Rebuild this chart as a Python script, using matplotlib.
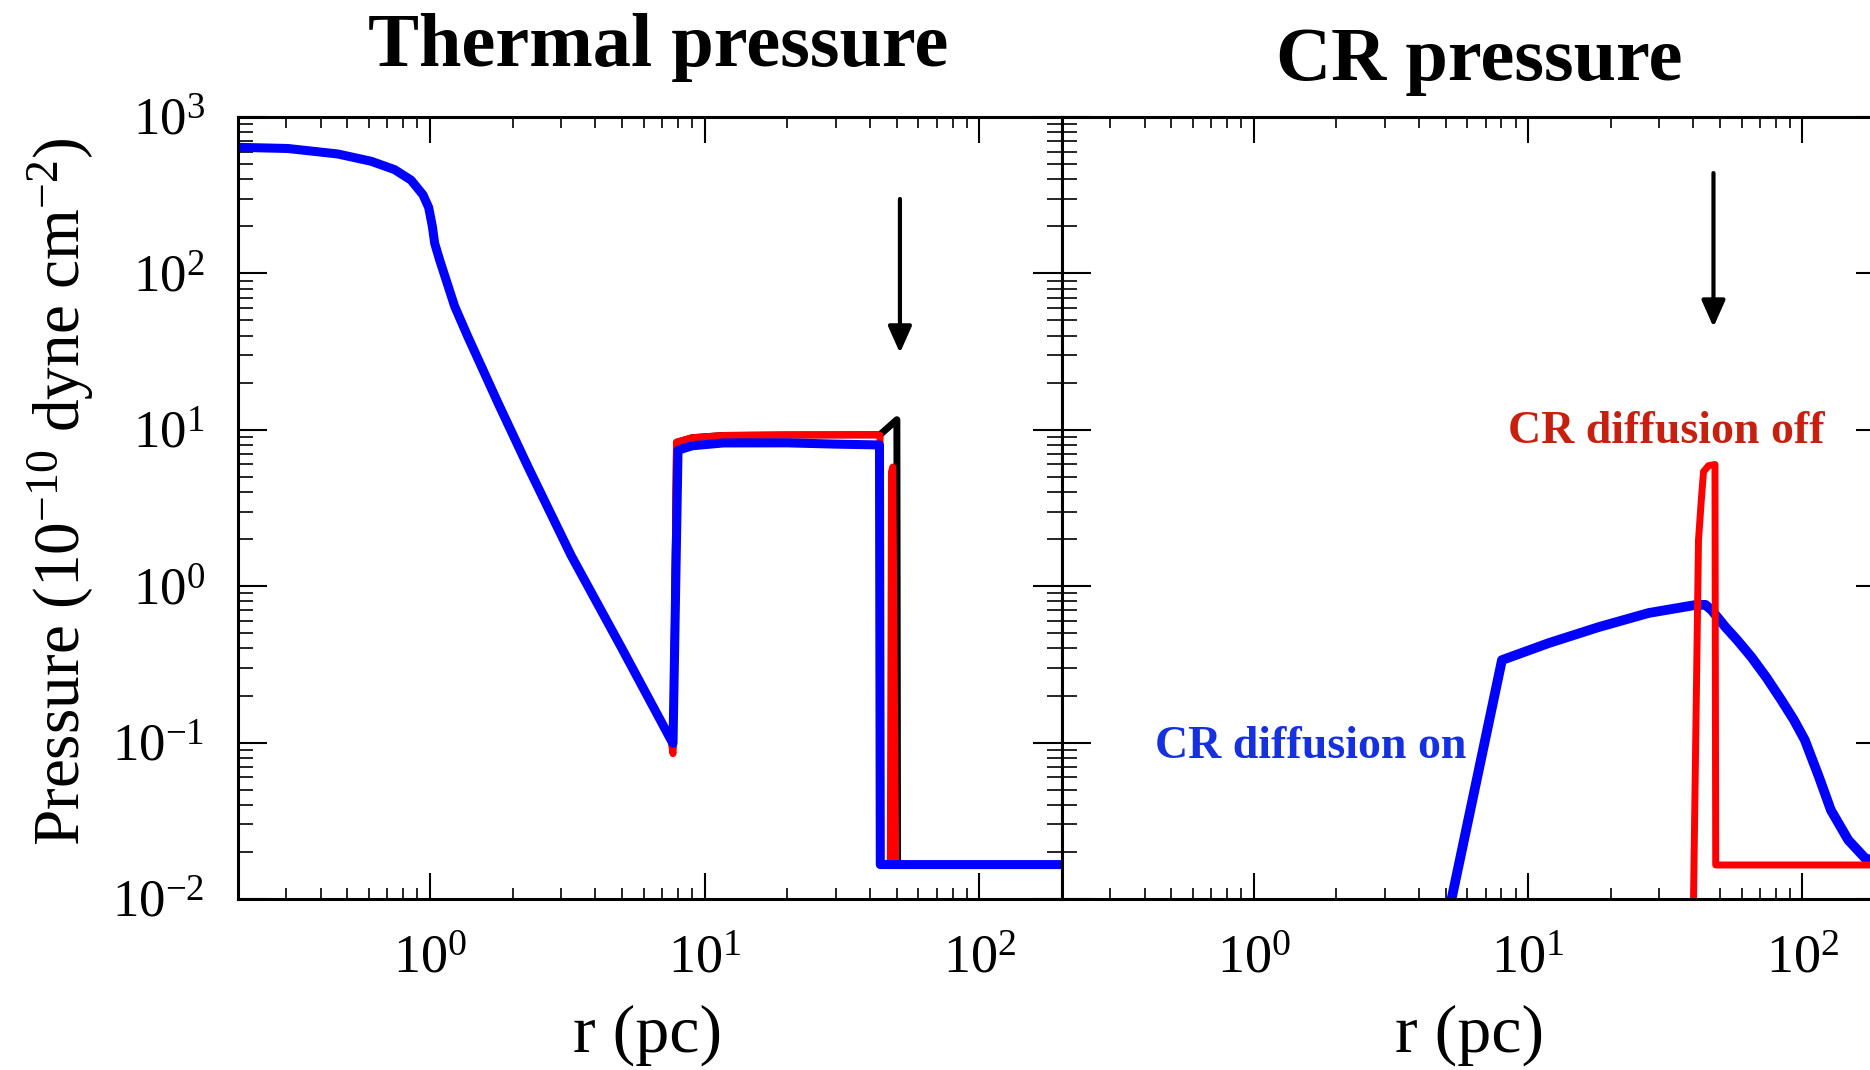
import numpy as np
import matplotlib.pyplot as plt
from matplotlib import ticker

plt.rcParams['font.family'] = 'Liberation Serif'
plt.rcParams['mathtext.fontset'] = 'custom'
plt.rcParams['mathtext.rm'] = 'Liberation Serif'
plt.rcParams['mathtext.it'] = 'Liberation Serif:italic'
plt.rcParams['mathtext.bf'] = 'Liberation Serif:bold'
plt.rcParams['mathtext.default'] = 'regular'

# ---- thermal pressure: common inner profile (r in pc, P in 1e-10 dyne cm^-2)
r_core = [0.2, 0.304, 0.462, 0.611, 0.743, 0.853, 0.943, 0.989, 1.02, 1.04, 1.084,
          1.23, 1.37, 1.77, 2.27, 3.26, 4.97, 7.54]
p_core = [640, 629, 580, 521, 461, 395, 318, 264, 200, 156, 122,
          61.5, 39.8, 14.8, 5.84, 1.58, 0.407, 0.104]

# diffusion off, another run (black)
black_r = [7.67, 7.9, 9.0, 11.7, 20.0, 43.5, 50.1, 50.4, 200]
black_p = [0.092, 8.3, 8.9, 9.2, 9.27, 9.3, 11.6, 0.0165, 0.0165]
# CR diffusion off (red)
red_r = [7.67, 7.9, 9.0, 11.7, 20.0, 42.8, 43.5, 43.6, 47.4, 47.9, 48.4, 49.6, 200]
red_p = [0.085, 8.35, 8.9, 9.2, 9.27, 9.27, 9.2, 0.0165, 0.0165, 5.4, 5.78, 0.0165, 0.0165]
# CR diffusion on (blue)
blue_r = [7.67, 8.0, 9.0, 11.7, 20.0, 30.0, 43.3, 43.6, 200]
blue_p = [0.099, 7.4, 7.9, 8.24, 8.25, 8.1, 8.0, 0.0166, 0.0166]

# ---- CR pressure
cr_off_r = [39.5, 40.1, 41.8, 42.8, 43.6, 45.5, 48.0, 48.3, 200]
cr_off_p = [0.004, 0.0103, 1.97, 3.56, 5.4, 5.9, 6.0, 0.0165, 0.0165]
cr_on_r = [5.28, 8.03, 11.9, 18.1, 27.5, 40.7, 44.3, 46.6, 52.4, 58.0, 65.2, 74.0,
           83.8, 93.0, 102, 115, 127, 147, 169, 200]
cr_on_p = [0.0103, 0.337, 0.433, 0.548, 0.674, 0.758, 0.76, 0.705, 0.548, 0.45, 0.352,
           0.26, 0.187, 0.14, 0.104, 0.06, 0.037, 0.0238, 0.0183, 0.0165]

# shock position arrows (r, start P, end P)
arrow_thermal = (51.4, 299, 31)
arrow_cr = (47.4, 438, 45.4)

W, H = 1870, 1070
fig = plt.figure(figsize=(W / 100, H / 100), dpi=100)
ax1 = fig.add_axes([238 / W, 1 - 899 / H, 824 / W, 782 / H])
ax2 = fig.add_axes([1062 / W, 1 - 899 / H, 823 / W, 782 / H])


def style(ax):
    ax.set_xscale('log')
    ax.set_yscale('log')
    ax.set_xlim(0.2, 200)
    ax.set_ylim(1e-2, 1e3)
    for s in ax.spines.values():
        s.set_linewidth(2.2)
    ax.xaxis.set_major_locator(ticker.LogLocator(base=10, numticks=10))
    ax.xaxis.set_minor_locator(ticker.LogLocator(base=10, subs=np.arange(2, 10), numticks=30))
    ax.yaxis.set_major_locator(ticker.LogLocator(base=10, numticks=10))
    ax.yaxis.set_minor_locator(ticker.LogLocator(base=10, subs=np.arange(2, 10), numticks=30))
    ax.xaxis.set_minor_formatter(ticker.NullFormatter())
    ax.yaxis.set_minor_formatter(ticker.NullFormatter())
    ax.tick_params(which='both', direction='in', top=True, right=True)
    ax.tick_params(axis='x', which='major', length=19, width=1.5, pad=25, labelsize=39)
    ax.tick_params(axis='x', which='minor', length=8, width=1.2)
    ax.tick_params(axis='y', which='major', length=21, width=1.5, pad=24, labelsize=38)
    ax.tick_params(axis='y', which='minor', length=11, width=1.2)


style(ax1)
style(ax2)
ax2.tick_params(labelleft=False)

# thermal panel
ax1.plot(r_core + black_r, p_core + black_p, color='black', lw=5)
ax1.plot(r_core + red_r, p_core + red_p, color='#ff0000', lw=5)
ax1.plot(r_core + blue_r, p_core + blue_p, color='#0000ff', lw=6.5)

# CR panel
ax2.plot(cr_on_r, cr_on_p, color='#0000ff', lw=7)
ax2.plot(cr_off_r, cr_off_p, color='#ff0000', lw=5)

arrow_kw = dict(arrowstyle='-|>,head_length=0.9,head_width=0.4', lw=3,
                color='black', mutation_scale=18, shrinkA=0, shrinkB=0)
ax1.annotate('', xy=(arrow_thermal[0], arrow_thermal[2]),
             xytext=(arrow_thermal[0], arrow_thermal[1]), arrowprops=arrow_kw)
ax2.annotate('', xy=(arrow_cr[0], arrow_cr[2]),
             xytext=(arrow_cr[0], arrow_cr[1]), arrowprops=arrow_kw)

ax2.text(8.43, 8.24, 'CR diffusion off', color='#c8200e', fontsize=33,
         fontweight='bold', ha='left', va='baseline')
ax2.text(0.436, 0.0797, 'CR diffusion on', color='#1530e0', fontsize=33,
         fontweight='bold', ha='left', va='baseline')

fig.text(658 / W, 1 - 66 / H, 'Thermal pressure', ha='center', va='baseline',
         fontsize=55, fontweight='bold')
fig.text(1479 / W, 1 - 80 / H, 'CR pressure', ha='center', va='baseline',
         fontsize=55, fontweight='bold')
fig.text(648 / W, 1 - 1052 / H, 'r (pc)', ha='center', va='baseline', fontsize=49)
fig.text(1470 / W, 1 - 1052 / H, 'r (pc)', ha='center', va='baseline', fontsize=49)
fig.text(61 / W, 1 - 492 / H, 'Pressure (10$^{-10}$ dyne cm$^{-2}$)', rotation=90,
         ha='center', va='center', fontsize=47)

fig.savefig('out.png', dpi=100)
